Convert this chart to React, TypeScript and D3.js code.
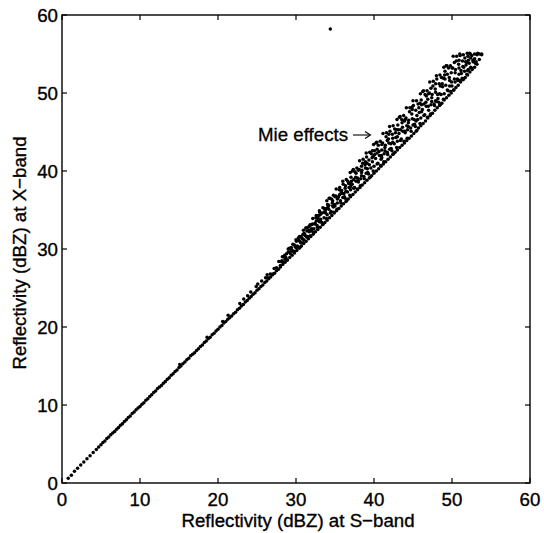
import React from "react";
import * as d3 from "d3";

// S-band reflectivity (dBZ) vs X-band reflectivity (dBZ) pairs
const mainLine: [number, number][] = [
  [0.8,0.6],[1.2,1.0],[1.6,1.5],[2.0,1.9],[2.4,2.3],[2.8,2.7],[3.2,3.1],[3.6,3.5],[4.0,3.9],[4.4,4.3],[4.7,4.6],
  [5.0,4.9],[5.25,5.2],[5.5,5.4],[5.75,5.7],[6.0,5.9],[6.25,6.2],[6.5,6.4],[6.75,6.6],[7.0,6.9],[7.25,7.1],[7.5,7.4],[7.75,7.6],[8.0,7.9],[8.25,8.1],[8.5,8.4],[8.75,8.6],
  [9.0,8.9],[9.25,9.1],[9.5,9.4],[9.75,9.6],[10.0,9.8],[10.25,10.1],[10.5,10.3],[10.75,10.6],[11.0,10.8],[11.25,11.1],[11.5,11.3],[11.75,11.6],[12.0,11.8],[12.25,12.1],
  [12.5,12.3],[12.75,12.5],[13.0,12.8],[13.25,13.0],[13.5,13.3],[13.75,13.5],[14.0,13.8],[14.25,14.0],[14.5,14.3],[14.75,14.5],[15.0,14.8],[15.25,15.0],[15.5,15.3],
  [15.75,15.5],[16.0,15.8],[16.25,16.0],[16.5,16.3],[16.75,16.5],[17.0,16.7],[17.25,17.0],[17.5,17.2],[17.75,17.5],[18.0,17.7],[18.25,18.0],[18.5,18.2],[18.75,18.5],
  [19.0,18.7],[19.25,19.0],[19.5,19.2],[19.75,19.5],[20.0,19.7],[20.25,20.0],[20.5,20.2],[20.75,20.5],[21.0,20.7],[21.25,21.0],[21.5,21.2],[21.75,21.4],[22.0,21.7],
  [22.25,21.9],[22.5,22.2],[22.75,22.4],[23.0,22.7],[23.25,22.9],[23.5,23.2],[23.75,23.4],[24.0,23.7],[24.25,23.9],[24.5,24.2],[24.75,24.4],[25.0,24.7],[25.25,24.9],
  [25.5,25.2],[25.75,25.4],[26.0,25.7],[26.25,25.9],[26.5,26.2],[26.75,26.4],[27.0,26.7],[27.25,26.9],[27.5,27.2],[27.75,27.4],[28.0,27.7]
];

const nearLine: [number, number][] = [
  [15.1,15.2],[18.6,18.7],[20.6,20.7],[21.3,21.5],[22.8,23.0],[23.3,23.6],[23.8,24.0],[24.2,24.5],[24.9,25.2],[25.1,25.5],[25.6,25.9],[26.3,26.7]
];

const lowerEdge: [number, number][] = [
  [28.3,28.0],[28.6,28.3],[28.9,28.6],[29.2,28.9],[29.5,29.2],[29.8,29.5],[30.1,29.8],[30.4,30.1],[30.7,30.4],[31.0,30.7],[31.3,31.0],[31.6,31.3],[31.9,31.6],
  [32.2,31.9],[32.5,32.2],[32.8,32.5],[33.1,32.8],[33.4,33.1],[33.7,33.4],[34.0,33.7],[34.3,34.0],[34.6,34.3],[34.9,34.6],[35.2,34.9],[35.5,35.2],[35.8,35.5],
  [36.1,35.8],[36.4,36.1],[36.7,36.4],[37.0,36.7],[37.3,37.0],[37.6,37.3],[37.9,37.6],[38.2,37.9],[38.5,38.2],[38.8,38.5],[39.1,38.8],[39.4,39.1],[39.7,39.4],
  [40.0,39.7],[40.3,40.0],[40.6,40.3],[40.9,40.6],[41.2,40.9],[41.5,41.2],[41.8,41.5],[42.1,41.8],[42.4,42.1],[42.7,42.4],[43.0,42.7],[43.3,43.0],[43.6,43.3],
  [43.9,43.6],[44.2,43.9],[44.5,44.2],[44.8,44.5],[45.1,44.8],[45.4,45.1],[45.7,45.5],[46.0,45.8],[46.3,46.1],[46.6,46.4],[46.9,46.8],[47.2,47.1],[47.5,47.4],
  [47.8,47.8],[48.1,48.1],[48.4,48.4],[48.7,48.7],[49.0,49.1],[49.3,49.4],[49.6,49.7],[49.9,50.0],[50.2,50.4],[50.5,50.7],[50.8,51.0],[51.1,51.4],[51.4,51.7],
  [51.7,52.0],[52.0,52.3],[52.3,52.7],[52.6,53.0],[52.9,53.3],[53.2,53.7],[53.5,54.3],[53.8,54.9]
];

const bandA: [number, number][] = [
  [26.1,26.3],[26.4,26.3],[26.7,26.8],[27.0,26.8],[27.2,27.5],[27.5,27.6],[27.8,28.4],[28.0,27.9],[28.2,28.5],[28.4,29.0],[28.6,28.7],[28.8,29.4],
  [29.0,30.0],[29.2,29.6],[29.4,30.2],[29.6,29.7],[29.8,30.5],[30.0,31.2],[30.15,30.4],[30.3,30.3],[30.45,31.6],[30.6,30.8],[30.75,31.4],[30.9,30.8],
  [31.05,32.0],[31.2,31.7],[31.35,32.7],[31.5,31.6],[31.65,32.4],[31.8,33.1],[31.95,32.3],[32.1,33.2],[32.25,32.1],[32.4,33.2],[32.55,34.0],[32.7,33.0],
  [32.85,33.9],[33.0,34.9],[33.15,33.8],[33.3,33.4],[33.45,35.3],[33.6,34.0],[33.75,34.9],[33.9,33.9],[34.05,35.7],[34.2,35.1],[34.35,36.5],[34.5,34.8],
  [34.65,35.9],[34.8,36.9],[34.95,35.7],[35.1,36.8],[35.25,35.1],[35.4,36.6],[35.55,37.6],[35.7,36.2],[35.85,37.5],[36.0,38.7],[36.15,37.1],[36.3,36.5],
  [36.45,38.9],[36.6,37.3],[36.75,38.4],[36.9,36.9],[37.05,39.2],[37.2,38.3],[37.35,40.2],[37.5,37.9],[37.65,39.2],[37.8,40.4],[37.95,38.8],[38.1,40.2],
  [38.25,38.1],[38.4,39.8],[38.55,41.0],[38.7,39.3],[38.85,40.8],[39.0,42.3],[39.15,40.3],[39.3,39.6],[39.45,42.4],[39.6,40.4],[39.75,41.7],[39.9,40.0],
  [40.05,42.6],[40.2,41.6],[40.35,43.7],[40.5,41.0],[40.65,42.5],[40.8,43.8],[40.95,42.0],[41.1,43.6],[41.25,41.2],[41.4,43.0],[41.55,44.4],[41.7,42.4],
  [41.85,44.1],[42.0,45.7],[42.15,43.5],[42.3,42.6],[42.45,45.8],[42.6,43.5],[42.75,44.9],[42.9,43.0],[43.05,45.9],[43.2,44.8],[43.35,47.0],[43.5,44.1],
  [43.65,45.6],[43.8,47.1],[43.95,45.1],[44.1,46.8],[44.25,44.2],[44.4,46.2],[44.55,47.6],[44.7,45.5],[44.85,47.3],[45.0,49.0],[45.15,46.6],[45.3,45.7],
  [45.45,49.0],[45.6,46.6],[45.75,48.1],[45.9,46.1],[46.05,49.1],[46.2,47.9],[46.35,50.3],[46.5,47.2],[46.65,48.8],[46.8,50.3],[46.95,48.3],[47.1,50.0],
  [47.25,47.3],[47.4,49.4],[47.55,50.9],[47.7,48.6],[47.85,50.5],[48.0,52.2],[48.15,49.8],[48.3,48.8],[48.45,52.3],[48.6,49.8],[48.75,51.2],[48.9,49.2],
  [49.05,52.3],[49.2,51.0],[49.35,53.5],[49.5,50.3],[49.65,52.0],[49.8,53.5],[49.95,51.4],[50.1,53.2],[50.25,50.4],[50.4,52.6],[50.55,54.1],[50.7,51.8],
  [50.85,53.7],[51.0,55.0],[51.15,52.9],[51.3,51.9],[51.45,54.9],[51.6,52.8],[51.75,54.0],[51.9,52.4],[52.05,54.7],[52.2,53.8],[52.35,55.0],[52.5,53.2],
  [52.7,54.2],[52.9,55.0],[53.1,54.0],[53.2,54.9],[53.5,55.0],[53.8,55.0]
];

const bandB: [number, number][] = [
  [28.1,28.4],[28.25,29.0],[28.4,28.3],[28.55,29.2],[28.7,28.9],[28.85,28.6],[29.0,29.6],[29.15,30.1],[29.3,29.4],[29.45,29.9],[29.6,30.6],[29.75,29.7],
  [29.9,30.3],[30.05,31.0],[30.2,30.3],[30.35,31.1],[30.5,30.2],[30.65,31.6],[30.8,31.3],[30.95,32.4],[31.1,31.9],[31.25,32.7],[31.4,31.5],[31.55,32.8],
  [31.7,32.2],[31.85,31.7],[32.0,33.1],[32.15,33.9],[32.3,32.6],[32.45,33.3],[32.6,34.3],[32.75,32.8],[32.9,33.7],[33.05,34.7],[33.2,33.5],[33.35,34.6],
  [33.5,33.2],[33.65,35.2],[33.8,34.6],[33.95,36.2],[34.1,35.4],[34.25,36.5],[34.4,34.6],[34.55,36.4],[34.7,35.5],[34.85,34.7],[35.0,36.7],[35.15,37.7],
  [35.3,35.9],[35.45,36.7],[35.6,37.9],[35.75,35.9],[35.9,37.1],[36.05,38.3],[36.2,36.7],[36.35,38.1],[36.5,36.2],[36.65,38.7],[36.8,37.9],[36.95,39.8],
  [37.1,38.7],[37.25,40.0],[37.4,37.8],[37.55,39.9],[37.7,38.7],[37.85,37.7],[38.0,40.1],[38.15,41.3],[38.3,39.0],[38.45,40.1],[38.6,41.5],[38.75,39.0],
  [38.9,40.4],[39.05,41.8],[39.2,39.8],[39.35,41.4],[39.5,39.2],[39.65,42.2],[39.8,41.2],[39.95,43.4],[40.1,42.1],[40.25,43.6],[40.4,40.9],[40.55,43.3],
  [40.7,42.0],[40.85,40.7],[41.0,43.4],[41.15,44.8],[41.3,42.2],[41.45,43.3],[41.6,44.9],[41.75,42.1],[41.9,43.6],[42.05,45.1],[42.2,42.9],[42.35,44.7],
  [42.5,42.2],[42.65,45.4],[42.8,44.3],[42.95,46.6],[43.1,45.3],[43.25,46.9],[43.4,43.9],[43.55,46.6],[43.7,45.1],[43.85,43.8],[44.0,46.6],[44.15,48.1],
  [44.3,45.3],[44.45,46.5],[44.6,48.1],[44.75,45.1],[44.9,46.7],[45.05,48.4],[45.2,46.0],[45.35,47.8],[45.5,45.2],[45.65,48.6],[45.8,47.5],[45.95,49.9],
  [46.1,48.5],[46.25,50.2],[46.4,47.1],[46.55,49.8],[46.7,48.3],[46.85,46.9],[47.0,49.9],[47.15,51.4],[47.3,48.5],[47.45,49.8],[47.6,51.5],[47.75,48.4],
  [47.9,50.1],[48.05,51.8],[48.2,49.3],[48.35,51.2],[48.5,48.5],[48.65,52.0],[48.8,50.8],[48.95,53.3],[49.1,51.8],[49.25,53.5],[49.4,50.4],[49.55,53.2],
  [49.7,51.6],[49.85,50.2],[50.0,53.2],[50.15,54.7],[50.3,51.8],[50.45,53.0],[50.6,54.7],[50.75,51.6],[50.9,53.2],[51.05,54.8],[51.2,52.5],[51.35,54.1],
  [51.5,51.8],[51.65,54.5],[51.8,53.6],[51.95,55.1],[52.1,54.2],[52.25,55.1],[52.4,53.3],[52.55,54.8],[52.7,54.0]
];

const bandC: [number, number][] = [
  [30.5,31.0],[31.7,32.9],[32.9,34.3],[33.9,35.2],[34.7,36.2],[35.6,37.0],[36.3,37.8],[37.0,38.0],[37.7,39.7],[38.4,40.6],[39.1,41.0],[39.8,42.6],
  [40.4,42.3],[41.0,42.7],[41.7,43.9],[42.4,44.2],[43.0,44.4],[43.6,46.2],[44.2,45.8],[44.9,48.2],[45.5,47.1],[46.1,47.6],[46.7,49.6],[47.3,50.6],
  [47.9,49.0],[48.5,50.9],[49.1,52.8],[49.7,50.9],[50.3,53.9],[50.9,52.4],[51.5,53.3],[52.1,53.0]
];

const bandD: [number, number][] = [
  [30.3,31.4],[30.9,31.9],[31.4,32.3],[32.0,32.6],[32.6,33.6],[33.1,34.4],[33.6,34.7],[34.2,35.6],[34.8,35.4],[35.3,36.4],[35.8,37.3],[36.4,37.4],
  [36.9,38.4],[37.4,38.9],[37.9,39.1],[38.4,39.4],[38.9,41.2],[39.4,40.8],[39.9,41.9],[40.4,42.8],[40.9,41.5],[41.4,42.6],[41.9,44.7],[42.4,43.7],
  [42.9,45.3],[43.4,45.3],[43.9,46.4],[44.4,45.7],[44.9,47.9],[45.4,46.4],[45.9,48.7],[46.4,48.6],[46.9,49.2],[47.4,48.9],[47.9,51.2],[48.4,49.9],
  [48.9,51.9],[49.4,52.4],[49.9,52.6],[50.4,51.4],[50.9,54.2],[51.4,53.4],[51.9,53.9],[52.4,54.5],[52.9,54.4],[53.3,55.1],
  [30.0,30.2],[31.0,31.2],[32.0,32.4],[33.0,33.5],[34.0,34.4],[35.0,35.5],[36.0,36.6],[37.0,37.6],[38.0,38.6],[39.0,39.7],[40.0,40.6],[41.0,41.7],
  [42.0,42.8],[43.0,43.8],[44.0,44.9],[45.0,45.9],[46.0,46.8],[47.0,47.8],[48.0,48.9],[49.0,49.9],[50.0,50.9],[51.0,51.6],[52.0,52.9],[53.0,53.8]
];

const stray: [number, number][] = [[34.4, 58.2]];

const tickValues = [0, 10, 20, 30, 40, 50, 60];
const xTitle = "Reflectivity (dBZ) at S\u2212band";
const yTitle = "Reflectivity (dBZ) at X\u2212band";
const annotation = "Mie effects";

export default function App() {
  const W = 544, H = 533;
  const L = 62, R = 530, T = 15, B = 483;
  const x = d3.scaleLinear().domain([0, 60]).range([L, R]);
  const y = d3.scaleLinear().domain([0, 60]).range([B, T]);
  const font = "Arial, 'Liberation Sans', Helvetica, sans-serif";
  const all = [...mainLine, ...nearLine, ...lowerEdge, ...bandA, ...bandB, ...bandC, ...bandD, ...stray];
  const tl = 5;
  const fs = 18.7;
  return (
    <svg width={W} height={H} style={{ position: "absolute", left: 0, top: 0, background: "#fff" }} fontFamily={font}>
      <rect x={0} y={0} width={W} height={H} fill="#fff" />
      {all.map((d, i) => (
        <circle key={i} cx={x(d[0])} cy={y(d[1])} r={1.75} fill="#000" />
      ))}
      <rect x={L} y={T} width={R - L} height={B - T} fill="none" stroke="#000" strokeWidth={1.4} />
      {tickValues.map((t) => (
        <g key={"t" + t}>
          <line x1={x(t)} x2={x(t)} y1={B} y2={B - tl} stroke="#000" strokeWidth={1.2} />
          <line x1={x(t)} x2={x(t)} y1={T} y2={T + tl} stroke="#000" strokeWidth={1.2} />
          <line x1={L} x2={L + tl} y1={y(t)} y2={y(t)} stroke="#000" strokeWidth={1.2} />
          <line x1={R} x2={R - tl} y1={y(t)} y2={y(t)} stroke="#000" strokeWidth={1.2} />
          <text x={x(t)} y={B + 23} textAnchor="middle" fontSize={fs} fill="#000" stroke="#000" strokeWidth={0.35}>{t}</text>
          <text x={L - 4} y={y(t) + 7} textAnchor="end" fontSize={fs} fill="#000" stroke="#000" strokeWidth={0.35}>{t}</text>
        </g>
      ))}
      <text x={(L + R) / 2 + 2} y={527} textAnchor="middle" fontSize={fs} fill="#000" stroke="#000" strokeWidth={0.35}>{xTitle}</text>
      <text transform={`translate(26,${(T + B) / 2 + 4}) rotate(-90)`} textAnchor="middle" fontSize={fs} fill="#000" stroke="#000" strokeWidth={0.35}>{yTitle}</text>
      <text x={258} y={141} fontSize={fs} fill="#000" stroke="#000" strokeWidth={0.3}>{annotation}</text>
      <line x1={353} x2={370} y1={135} y2={135} stroke="#000" strokeWidth={1.1} />
      <path d="M365,131.5 L370.5,135 L365,138.5" fill="none" stroke="#000" strokeWidth={1.1} />
    </svg>
  );
}
